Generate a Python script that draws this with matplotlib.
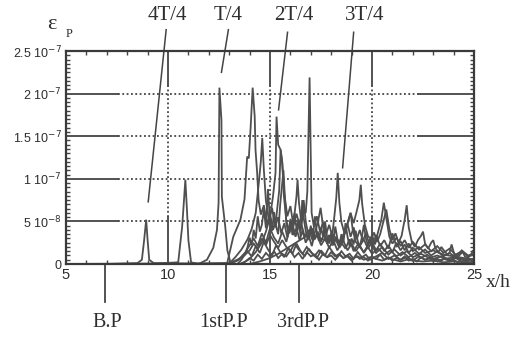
#!/usr/bin/env python3
import numpy as np
import matplotlib
matplotlib.use('Agg')
import matplotlib.pyplot as plt
from matplotlib.ticker import MultipleLocator

# strain eps_p in units of 1e-8, vs x/h
x1 = [5.0, 7.0, 8.5, 8.72, 8.83, 8.93, 9.0, 9.08, 9.3, 11.0, 12.8, 13.3, 13.6, 13.9, 14.1, 14.3, 14.5, 14.7, 14.9, 15.1, 15.3, 15.5, 15.7, 15.9, 16.1, 16.3, 16.5, 16.7, 16.9, 17.1, 17.3, 17.5, 17.7, 17.9, 18.1, 18.3, 18.5, 18.7, 18.9, 19.1, 19.3, 19.5, 19.7, 19.9, 20.2, 20.5, 20.8, 21.1, 21.4, 21.7, 22.0, 22.3, 22.6, 22.9, 23.2, 23.5, 23.8, 24.1, 24.4, 24.7, 25.0]
y1 = [0, 0, 0.1, 0.5, 2.8, 5.2, 2.8, 0.5, 0.1, 0, 0, 0.3, 0.8, 1.5, 0.9, 2.1, 1.3, 2.6, 1.7, 1.0, 2.2, 1.4, 0.8, 1.9, 1.2, 2.4, 1.5, 0.9, 1.8, 1.1, 0.7, 1.6, 1.0, 2.0, 1.3, 0.8, 1.5, 0.9, 1.2, 0.6, 1.4, 0.8, 1.1, 0.5, 0.9, 1.3, 0.6, 1.0, 0.5, 0.8, 0.4, 0.9, 0.5, 0.7, 0.3, 0.6, 0.4, 0.7, 0.3, 0.5, 0.4]

x2 = [5.0, 9.0, 10.5, 10.69, 10.75, 10.85, 10.93, 11.0, 11.13, 11.5, 13.0, 13.5, 13.8, 14.0, 14.2, 14.4, 14.6, 14.8, 15.0, 15.2, 15.4, 15.6, 15.8, 16.0, 16.2, 16.3, 16.35, 16.42, 16.55, 16.7, 16.9, 17.1, 17.3, 17.5, 17.7, 17.9, 18.1, 18.3, 18.5, 18.7, 18.9, 19.1, 19.3, 19.6, 19.9, 20.2, 20.5, 20.8, 21.1, 21.4, 21.7, 22.0, 22.4, 22.8, 23.2, 23.6, 24.0, 24.5, 25.0]
y2 = [0, 0, 0.2, 4.3, 6.3, 9.9, 6.3, 2.8, 0.2, 0, 0.1, 0.6, 1.4, 2.2, 3.0, 2.1, 3.6, 2.5, 4.2, 3.1, 2.4, 3.8, 2.6, 4.5, 5.8, 8.0, 9.9, 7.2, 4.6, 3.2, 4.0, 2.7, 3.5, 2.2, 3.0, 1.9, 2.8, 1.6, 2.5, 1.8, 2.9, 1.5, 2.3, 1.4, 2.6, 1.3, 2.0, 1.1, 1.7, 1.0, 1.5, 0.8, 1.2, 0.7, 1.0, 0.6, 0.8, 0.5, 0.6]

x3 = [5.0, 11.5, 11.91, 12.22, 12.4, 12.48, 12.52, 12.62, 12.64, 12.81, 12.91, 13.06, 13.3, 13.6, 13.9, 14.1, 14.3, 14.45, 14.55, 14.62, 14.7, 14.8, 14.95, 15.1, 15.25, 15.4, 15.55, 15.7, 15.85, 16.0, 16.15, 16.3, 16.45, 16.6, 16.75, 16.9, 17.05, 17.2, 17.35, 17.48, 17.6, 17.75, 17.9, 18.05, 18.2, 18.4, 18.6, 18.8, 19.0, 19.2, 19.4, 19.6, 19.8, 20.0, 20.3, 20.6, 20.9, 21.2, 21.5, 21.8, 22.1, 22.4, 22.7, 23.0, 23.4, 23.8, 24.2, 24.6, 25.0]
y3 = [0, 0, 0.5, 1.9, 4.0, 7.2, 20.7, 16.9, 7.9, 4.3, 1.6, 0.2, 0.8, 1.7, 2.9, 4.1, 6.0, 9.5, 12.0, 14.8, 11.0, 7.4, 5.2, 6.6, 4.3, 5.5, 3.6, 4.8, 3.1, 5.0, 3.4, 4.2, 2.8, 3.9, 2.5, 3.3, 2.1, 3.7, 4.9, 6.6, 4.4, 2.7, 3.4, 2.2, 3.0, 1.9, 2.7, 1.6, 2.4, 1.5, 2.2, 1.3, 2.0, 1.2, 1.8, 1.1, 1.6, 0.9, 1.4, 0.8, 1.3, 0.7, 1.1, 0.6, 0.9, 0.5, 0.8, 0.4, 0.6]

x4 = [5.0, 12.9, 13.2, 13.55, 13.75, 13.88, 13.96, 14.05, 14.15, 14.25, 14.29, 14.37, 14.44, 14.55, 14.7, 14.85, 15.0, 15.15, 15.3, 15.45, 15.52, 15.6, 15.68, 15.8, 15.95, 16.1, 16.25, 16.4, 16.55, 16.65, 16.75, 16.9, 17.05, 17.2, 17.35, 17.5, 17.65, 17.8, 17.95, 18.1, 18.25, 18.4, 18.55, 18.7, 18.85, 18.95, 19.05, 19.2, 19.4, 19.6, 19.8, 20.0, 20.2, 20.4, 20.6, 20.8, 21.0, 21.2, 21.4, 21.6, 21.8, 22.0, 22.3, 22.6, 22.9, 23.2, 23.5, 23.8, 24.1, 24.4, 24.7, 25.0]
y4 = [0, 0.1, 3.2, 5.2, 7.6, 12.6, 12.4, 16.0, 20.7, 17.3, 13.4, 10.7, 7.5, 5.8, 6.9, 4.7, 5.9, 4.0, 5.3, 8.6, 13.4, 11.9, 8.0, 5.1, 3.6, 4.8, 3.2, 4.4, 5.8, 7.5, 5.0, 3.1, 4.2, 2.9, 3.8, 2.6, 3.5, 2.4, 3.3, 2.2, 3.1, 2.0, 2.9, 3.8, 5.2, 6.0, 4.1, 2.6, 2.1, 2.9, 1.8, 2.6, 1.6, 2.4, 1.5, 2.2, 1.4, 2.5, 1.6, 2.3, 1.3, 1.9, 1.2, 1.7, 1.0, 1.5, 0.9, 1.3, 0.8, 1.6, 1.0, 1.2]

x5 = [5.0, 13.6, 14.0, 14.3, 14.6, 14.8, 15.0, 15.15, 15.27, 15.32, 15.4, 15.52, 15.6, 15.7, 15.85, 16.0, 16.15, 16.3, 16.5, 16.65, 16.75, 16.83, 16.94, 17.04, 17.15, 17.3, 17.45, 17.6, 17.75, 17.9, 18.05, 18.15, 18.25, 18.32, 18.4, 18.5, 18.65, 18.8, 18.95, 19.1, 19.25, 19.4, 19.55, 19.7, 19.85, 20.0, 20.15, 20.3, 20.45, 20.58, 20.7, 20.85, 21.0, 21.2, 21.4, 21.6, 21.8, 22.0, 22.3, 22.6, 22.9, 23.2, 23.5, 23.8, 24.1, 24.4, 24.7, 25.0]
y5 = [0, 0, 0.6, 1.4, 2.5, 3.8, 5.5, 8.0, 10.7, 17.3, 14.0, 13.4, 11.9, 8.3, 5.6, 6.8, 4.5, 5.9, 4.1, 6.2, 6.0, 8.5, 21.9, 6.0, 4.4, 5.6, 3.8, 4.9, 3.5, 4.6, 3.3, 5.5, 7.8, 10.7, 7.2, 4.9, 3.6, 4.7, 3.2, 4.3, 2.9, 4.0, 2.7, 3.6, 2.5, 3.4, 2.3, 3.8, 5.1, 7.2, 5.4, 3.2, 2.4, 3.1, 2.1, 2.8, 1.9, 2.6, 1.7, 2.3, 1.5, 2.1, 1.3, 1.8, 1.1, 1.5, 0.9, 1.1]

x6 = [5.0, 14.0, 14.5, 15.0, 15.4, 15.8, 16.2, 16.6, 17.0, 17.4, 17.8, 18.1, 18.4, 18.7, 18.95, 19.1, 19.25, 19.38, 19.45, 19.52, 19.65, 19.8, 19.95, 20.1, 20.25, 20.4, 20.55, 20.7, 20.85, 21.0, 21.15, 21.3, 21.45, 21.6, 21.7, 21.8, 21.95, 22.1, 22.25, 22.4, 22.5, 22.6, 22.75, 22.9, 23.0, 23.1, 23.25, 23.4, 23.55, 23.7, 23.8, 23.9, 24.05, 24.2, 24.35, 24.45, 24.55, 24.7, 24.85, 24.95, 25.0]
y6 = [0, 0, 0.3, 0.7, 1.2, 1.8, 2.4, 3.0, 3.6, 3.1, 2.7, 3.4, 2.6, 3.9, 6.0, 4.8, 6.2, 7.5, 9.3, 7.0, 4.6, 3.3, 2.9, 3.7, 2.6, 3.5, 4.9, 6.4, 4.1, 2.8, 3.6, 2.5, 3.3, 5.2, 6.9, 4.3, 2.6, 2.0, 2.8, 3.3, 3.8, 2.4, 1.8, 2.5, 2.8, 1.9, 1.4, 2.0, 1.5, 1.1, 1.3, 2.3, 1.0, 0.8, 1.2, 1.4, 0.9, 0.7, 1.1, 1.6, 1.2]

x7 = [5.0, 13.0, 13.4, 13.7, 14.0, 14.2, 14.4, 14.6, 14.8, 15.0, 15.2, 15.4, 15.6, 15.8, 16.0, 16.2, 16.4, 16.6, 16.8, 17.0, 17.2, 17.4, 17.6, 17.8, 18.0, 18.2, 18.4, 18.6, 18.8, 19.0, 19.3, 19.6, 19.9, 20.2, 20.5, 20.8, 21.1, 21.4, 21.7, 22.0, 22.5, 23.0, 23.5, 24.0, 24.5, 25.0]
y7 = [0, 0, 0.4, 0.9, 1.6, 2.4, 1.8, 3.0, 2.2, 3.4, 2.6, 1.9, 2.8, 2.0, 1.5, 2.4, 1.7, 1.2, 2.0, 1.4, 1.0, 1.6, 1.1, 0.8, 1.4, 0.9, 1.2, 0.7, 1.0, 0.6, 0.9, 0.5, 0.8, 0.6, 0.4, 0.7, 0.5, 0.3, 0.5, 0.4, 0.3, 0.4, 0.2, 0.3, 0.2, 0.2]

x8 = [5.0, 13.4, 13.6, 13.8, 13.9, 14.0, 14.1, 14.2, 14.3, 14.4, 14.5, 14.6, 14.7, 14.8, 14.9, 15.0, 15.1, 15.2, 15.3, 15.4, 15.5, 15.6, 15.66, 15.72, 15.8, 15.9, 16.0, 16.1, 16.2, 16.3, 16.4, 16.5, 16.58, 16.65, 16.75, 16.85, 17.0, 17.1, 17.2, 17.3, 17.4, 17.5, 17.6, 17.7, 17.8, 17.9, 18.0, 18.1, 18.2, 18.3, 18.4, 18.5, 18.6, 18.7, 18.8, 18.9, 19.0, 19.1, 19.2, 19.3, 19.4, 19.5, 19.6, 19.7, 19.8, 19.9, 20.0, 20.2, 20.4, 20.6, 20.8, 21.0, 21.2, 21.4, 21.6, 21.8, 22.0, 22.3, 22.6, 23.0, 23.5, 24.0, 24.5, 25.0]
y8 = [0, 0, 0.5, 1.3, 2.0, 3.1, 2.2, 4.0, 3.0, 5.6, 3.8, 4.6, 6.4, 4.2, 8.8, 5.0, 3.9, 6.1, 4.4, 3.5, 7.0, 9.5, 11.0, 8.2, 4.8, 3.6, 5.3, 3.4, 6.0, 4.1, 5.2, 3.3, 7.5, 5.4, 3.9, 2.8, 4.5, 3.0, 5.6, 3.6, 2.7, 4.3, 3.2, 5.0, 3.1, 2.4, 3.7, 2.6, 4.4, 3.0, 2.2, 3.5, 2.5, 4.8, 3.2, 2.1, 3.0, 2.3, 3.9, 2.7, 2.0, 3.1, 4.6, 3.0, 2.2, 2.9, 1.9, 3.4, 2.1, 2.8, 1.8, 3.6, 2.0, 2.7, 1.6, 2.4, 1.5, 2.0, 1.3, 1.6, 1.1, 0.9, 0.7, 0.5]

x9 = [5.0, 13.5, 13.8, 14.0, 14.2, 14.4, 14.6, 14.8, 15.0, 15.2, 15.4, 15.6, 15.8, 16.0, 16.2, 16.4, 16.6, 16.8, 17.0, 17.2, 17.4, 17.6, 17.8, 18.0, 18.2, 18.4, 18.6, 18.8, 19.0, 19.2, 19.4, 19.6, 19.8, 20.0, 20.2, 20.4, 20.6, 20.8, 21.0, 21.2, 21.4, 21.6, 21.8, 22.0, 22.2, 22.4, 22.6, 22.8, 23.0, 23.2, 23.4, 23.6, 23.8, 24.0, 24.2, 24.4, 24.6, 24.8, 25.0]
y9 = [0, 0, 0.3, 0.7, 0.4, 1.1, 0.6, 1.3, 0.8, 1.5, 0.7, 1.2, 0.9, 1.6, 0.8, 1.3, 0.6, 1.4, 0.9, 1.1, 0.5, 1.2, 0.8, 1.0, 0.5, 1.1, 0.7, 0.9, 0.4, 1.0, 0.6, 0.8, 0.4, 0.9, 0.6, 1.1, 0.5, 0.8, 0.4, 0.7, 0.5, 0.9, 0.4, 0.6, 0.3, 0.8, 0.5, 0.7, 0.3, 0.6, 0.4, 0.7, 0.3, 0.5, 0.2, 0.6, 0.3, 0.4, 0.3]

series = [(x1, y1), (x2, y2), (x3, y3), (x4, y4), (x5, y5), (x6, y6),
          (x7, y7), (x8, y8), (x9, y9)]

yticks = [0, 5, 10, 15, 20, 25]
yticklabels = ['0', '5 10$^{-8}$', '1 10$^{-7}$', '1.5 10$^{-7}$', '2 10$^{-7}$', '2.5 10$^{-7}$']
xticks = [5, 10, 15, 20, 25]

# top labels: text, label pos, leader start, leader end
phase_labels = ['4T/4', 'T/4', '2T/4', '3T/4']
phase_text_x = [9.99, 12.94, 16.18, 19.62]
phase_leader = [((9.91, 27.5), (9.03, 7.3)),
                ((12.96, 27.5), (12.62, 22.5)),
                ((15.86, 27.2), (15.42, 18.1)),
                ((19.10, 27.2), (18.56, 11.3))]

# bottom markers
point_labels = ['B.P', '1stP.P', '3rdP.P']
point_x = [6.92, 12.86, 16.40]
point_text_x = [7.0, 12.7, 16.6]

line_c = '#4f4f4f'
text_c = '#2e2e2e'
serif = ['Liberation Serif', 'DejaVu Serif']
sans = ['Liberation Sans', 'DejaVu Sans']

fig = plt.figure(figsize=(5.14, 3.37), dpi=100)
ax = fig.add_axes([0.1284, 0.2166, 0.7938, 0.632])
ax.set_xlim(5, 25)
ax.set_ylim(0, 25)

# grid: solid near the frame, dotted in the middle
dot = (0, (1, 1.4))
for yv in [5, 10, 15, 20]:
    ax.plot([5, 7.56], [yv, yv], color='#444444', lw=1.3)
    ax.plot([7.56, 22.3], [yv, yv], color='#444444', lw=1.3, ls=dot)
    ax.plot([22.3, 25], [yv, yv], color='#444444', lw=1.3)
for xv in [10, 15, 20]:
    ax.plot([xv, xv], [21.0, 25], color='#444444', lw=1.3)
    ax.plot([xv, xv], [5.5, 21.0], color='#444444', lw=1.3, ls=dot)
    ax.plot([xv, xv], [0, 5.5], color='#444444', lw=1.3)

for xs, ys in series:
    ax.plot(xs, ys, color=line_c, lw=1.3, solid_joinstyle='miter')

for sp in ax.spines.values():
    sp.set_linewidth(1.6)
    sp.set_color('#3a3a3a')

ax.set_yticks(yticks)
ax.set_yticklabels(yticklabels, family=sans, fontsize=9, color=text_c)
ax.set_xticks(xticks)
ax.set_xticklabels([str(v) for v in xticks], family=sans, fontsize=10.5, color=text_c)
ax.xaxis.set_minor_locator(MultipleLocator(1))
ax.yaxis.set_minor_locator(MultipleLocator(0.5))
ax.tick_params(which='major', length=0, pad=3)
ax.tick_params(which='minor', direction='in', length=3, width=1, color='#444444',
               top=True, right=True)

# annotations
for lab, tx, (p0, p1) in zip(phase_labels, phase_text_x, phase_leader):
    ax.text(tx, 29.2, lab, ha='center', va='center', fontsize=15, family=serif,
            color=text_c, clip_on=False)
    ax.plot([p0[0], p1[0]], [p0[1], p1[1]], color='#444444', lw=1.1, clip_on=False)

for lab, px, tx in zip(point_labels, point_x, point_text_x):
    ax.plot([px, px], [-0.1, -4.5], color='#444444', lw=1.3, clip_on=False)
    ax.text(tx, -6.9, lab, ha='center', va='center', fontsize=14.5, family=serif,
            color=text_c, clip_on=False)

ax.text(26.2, -2.2, 'x/h', ha='center', va='center', fontsize=14, family=serif,
        color=text_c, clip_on=False)
ax.text(4.3, 28.1, 'ε', ha='center', va='center', fontsize=16, family=serif,
        color=text_c, clip_on=False)
ax.text(5.15, 27.0, 'P', ha='center', va='center', fontsize=9, family=serif,
        color=text_c, clip_on=False)

fig.savefig('out.png', dpi=100)
